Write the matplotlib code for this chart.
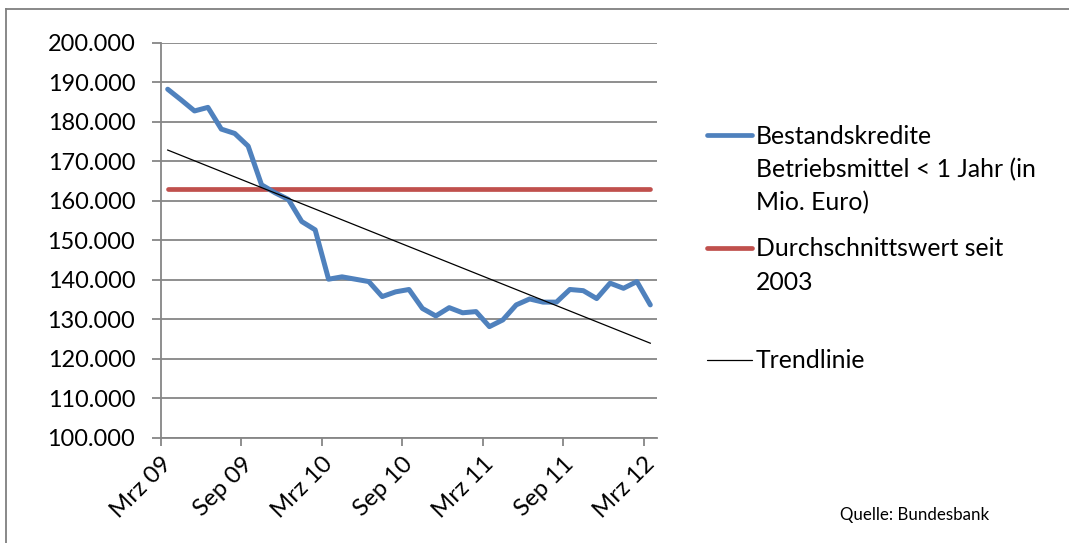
import numpy as np
import matplotlib.pyplot as plt
from matplotlib.lines import Line2D
from matplotlib.ticker import FuncFormatter

plt.rcParams['font.family'] = ['Lato', 'DejaVu Sans']

# Monatswerte Mrz 09 .. Mrz 12 (Mio. Euro)
months = ['Mrz 09', 'Apr 09', 'Mai 09', 'Jun 09', 'Jul 09', 'Aug 09', 'Sep 09', 'Okt 09', 'Nov 09',
          'Dez 09', 'Jan 10', 'Feb 10', 'Mrz 10', 'Apr 10', 'Mai 10', 'Jun 10', 'Jul 10', 'Aug 10',
          'Sep 10', 'Okt 10', 'Nov 10', 'Dez 10', 'Jan 11', 'Feb 11', 'Mrz 11', 'Apr 11', 'Mai 11',
          'Jun 11', 'Jul 11', 'Aug 11', 'Sep 11', 'Okt 11', 'Nov 11', 'Dez 11', 'Jan 12', 'Feb 12',
          'Mrz 12']
kredite = [188300, 185600, 182800, 183700, 178200, 177100, 173900, 164100, 162100, 160400,
           154800, 152700, 140200, 140800, 140200, 139600, 135800, 137000, 137600, 132800,
           130900, 133000, 131700, 132000, 128200, 129900, 133700, 135200, 134400, 134400,
           137600, 137300, 135300, 139200, 137900, 139600, 133700]
durchschnitt = [163000] * len(months)
# Trendlinie: Anfangs- und Endwert
trend_ends = [172900, 124000]

blue = '#4F81BD'
red = '#C0504D'
grid = '#868686'

fig = plt.figure(figsize=(10.69, 5.43), dpi=100)
ax = fig.add_axes([161 / 1069, 105 / 543, 496 / 1069, 395 / 543])

x = np.arange(len(months))

ax.plot(x, kredite, color=blue, lw=3.6, solid_joinstyle='round', solid_capstyle='round', zorder=4)
ax.plot(x, durchschnitt, color=red, lw=3.4, solid_capstyle='round', zorder=3)
ax.plot([x[0], x[-1]], trend_ends, color='black', lw=0.9, zorder=5)

ax.set_xlim(-0.5, len(months) - 0.5)
ax.set_ylim(100000, 200000)
ax.set_yticks(np.arange(100000, 200001, 10000))
ax.yaxis.set_major_formatter(FuncFormatter(lambda v, p: f'{int(v):,}'.replace(',', '.')))
ax.grid(axis='y', color=grid, lw=1.3)
ax.set_axisbelow(True)

tick_pos = np.arange(0, len(months), 6) - 0.5
ax.set_xticks(tick_pos)
ax.set_xticklabels([months[i] for i in range(0, len(months), 6)])
for lab in ax.get_xticklabels():
    lab.set_rotation(45)
    lab.set_ha('right')
    lab.set_va('top')
    lab.set_rotation_mode('anchor')

for s in ['top', 'right']:
    ax.spines[s].set_visible(False)
for s in ['left', 'bottom']:
    ax.spines[s].set_color(grid)
    ax.spines[s].set_linewidth(1.3)
ax.tick_params(axis='y', length=6.5, width=1.3, color=grid, labelsize=16.9, pad=12)
ax.tick_params(axis='x', length=6, width=1.3, color=grid, labelsize=17.3, pad=5)

# Legende von Hand
def px(xp, yp):
    return xp / 1069, 1 - yp / 543

legend_items = [
    (blue, 3.4, 135, ['Bestandskredite', 'Betriebsmittel < 1 Jahr (in', 'Mio. Euro)']),
    (red, 3.4, 248, ['Durchschnittswert seit', '2003']),
    ('black', 0.9, 360, ['Trendlinie']),
]
for col, lw, yp, lines in legend_items:
    x0, y0 = px(707, yp)
    x1, _ = px(752, yp)
    fig.add_artist(Line2D([x0, x1], [y0, y0], color=col, lw=lw, solid_capstyle='round'))
    for k, t in enumerate(lines):
        tx, ty = px(756, yp + 1 + k * 33.5)
        fig.text(tx, ty, t, fontsize=17.8, va='center', ha='left')

qx, qy = px(840, 515)
fig.text(qx, qy, 'Quelle: Bundesbank', fontsize=12.2, va='center', ha='left')

# Rahmen des Diagramms
fig.add_artist(Line2D([6 / 1069, 6 / 1069], [0, 1 - 9 / 543], color='#7f7f7f', lw=1.3))
fig.add_artist(Line2D([6 / 1069, 1], [1 - 9 / 543, 1 - 9 / 543], color='#7f7f7f', lw=1.3))

fig.savefig('out.png', dpi=100)
